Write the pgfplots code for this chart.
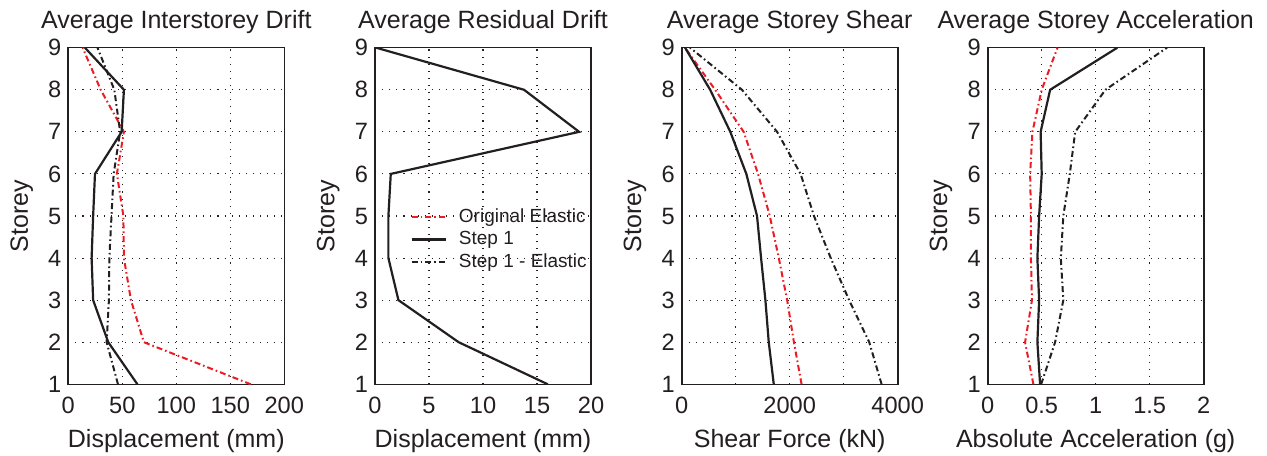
\documentclass[border=0pt]{standalone}
\usepackage{fontspec}
\setmainfont{Liberation Sans}
\usepackage{pgfplots}
\pgfplotsset{compat=1.18}
\definecolor{ink}{RGB}{35,31,32}
\definecolor{redl}{RGB}{237,28,36}
\pgfplotsset{
  panel/.style={
    scale only axis, width=108pt, height=168.3pt, anchor=south west,
    xmin=0, ymin=1, ymax=9, ytick={1,...,9},
    axis line style={ink, line width=0.8pt},
    grid=both,
    major grid style={ink, line width=0.55pt, dash pattern=on 0.55pt off 3pt},
    minor grid style={ink, line width=0.55pt, dash pattern=on 0.55pt off 3pt},
    major tick length=0pt, minor tick length=0pt,
    tick label style={font=\fontsize{11.8}{13}\selectfont, text=ink},
    /pgf/number format/assume math mode=true,
    /pgf/number format/1000 sep={},
    xticklabel style={yshift=-3pt},
    every axis title shift=0pt,
    title style={font=\fontsize{12.5}{14}\selectfont, text=ink, at={(axis description cs:0.5,1)}, anchor=base, yshift=9.8pt},
    label style={font=\fontsize{12.5}{14}\selectfont, text=ink},
    xlabel style={at={(axis description cs:0.5,-0.1866)}, anchor=base},
    ylabel style={at={(axis description cs:-0.216,0.5)}, anchor=center},
    ylabel={Storey},
  },
  orig/.style={redl, line width=1pt, dash pattern=on 3pt off 1.5pt on 0.8pt off 1.5pt},
  stepone/.style={ink, line width=1.1pt},
  steponeel/.style={ink, line width=1pt, dash pattern=on 3pt off 1.5pt on 0.8pt off 1.5pt},
}
\begin{document}
\begin{tikzpicture}
\useasboundingbox (0,0) rectangle (633.5pt,227.5pt);

% interstorey drift
\begin{axis}[panel, at={(34.15pt,35.35pt)}, xmax=200, xtick={0,50,...,200},
  title={Average Interstorey Drift}, xlabel={Displacement (mm)}]
\addplot[orig] coordinates {(169,1) (70,2) (58,3) (51.5,4) (51,5) (45,6) (51.5,7) (30,8) (13.3,9)};
\addplot[stepone] coordinates {(64,1) (37,2) (23,3) (21.6,4) (23,5) (24.7,6) (49.4,7) (51.5,8) (15.4,9)};
\addplot[steponeel] coordinates {(46,1) (35.5,2) (37.6,3) (38,4) (40,5) (42,6) (48,7) (42.6,8) (27,9)};
\end{axis}

% residual drift
\begin{axis}[panel, at={(187.5pt,35.35pt)}, xmax=20, xtick={0,5,...,20},
  title={Average Residual Drift}, xlabel={Displacement (mm)},
  legend style={at={(0.163,0.535)}, anchor=north west, draw=none, fill=none, inner sep=0pt,
    font=\fontsize{9.5}{11}\selectfont, text=ink, row sep=-1pt, cells={anchor=west},
    nodes={inner xsep=6pt}},
  legend cell align=left]
\addlegendimage{orig}
\addplot[stepone] coordinates {(16,1) (7.75,2) (2.17,3) (1.24,4) (1.24,5) (1.46,6) (18.9,7) (13.8,8) (0.1,9)};
\addlegendimage{steponeel}
\legend{Original Elastic, Step 1, Step 1 - Elastic}
\end{axis}

% storey shear
\begin{axis}[panel, at={(340.85pt,35.35pt)}, xmax=4000, xtick={0,2000,4000}, minor xtick={1000,3000},
  title={Average Storey Shear}, xlabel={Shear Force (kN)}]
\addplot[orig] coordinates {(2220,1) (2078,2) (1953,3) (1798,4) (1631,5) (1414,6) (1147,7) (620,8) (60,9)};
\addplot[stepone] coordinates {(1705,1) (1612,2) (1550,3) (1470,4) (1395,5) (1197,6) (900,7) (527,8) (62,9)};
\addplot[steponeel] coordinates {(3702,1) (3473,2) (3100,3) (2760,4) (2450,5) (2202,6) (1767,7) (1116,8) (155,9)};
\end{axis}

% storey acceleration
\begin{axis}[panel, at={(493.85pt,35.35pt)}, xmax=2, xtick={0,0.5,...,2},
  title={Average Storey Acceleration}, xlabel={Absolute Acceleration (g)}]
\addplot[orig] coordinates {(0.423,1) (0.346,2) (0.41,3) (0.40,4) (0.40,5) (0.393,6) (0.414,7) (0.50,8) (0.646,9)};
\addplot[stepone] coordinates {(0.485,1) (0.46,2) (0.476,3) (0.46,4) (0.476,5) (0.50,6) (0.49,7) (0.578,8) (1.20,9)};
\addplot[steponeel] coordinates {(0.495,1) (0.624,2) (0.70,3) (0.677,4) (0.70,5) (0.76,6) (0.81,7) (1.09,8) (1.66,9)};
\end{axis}
\end{tikzpicture}
\end{document}
